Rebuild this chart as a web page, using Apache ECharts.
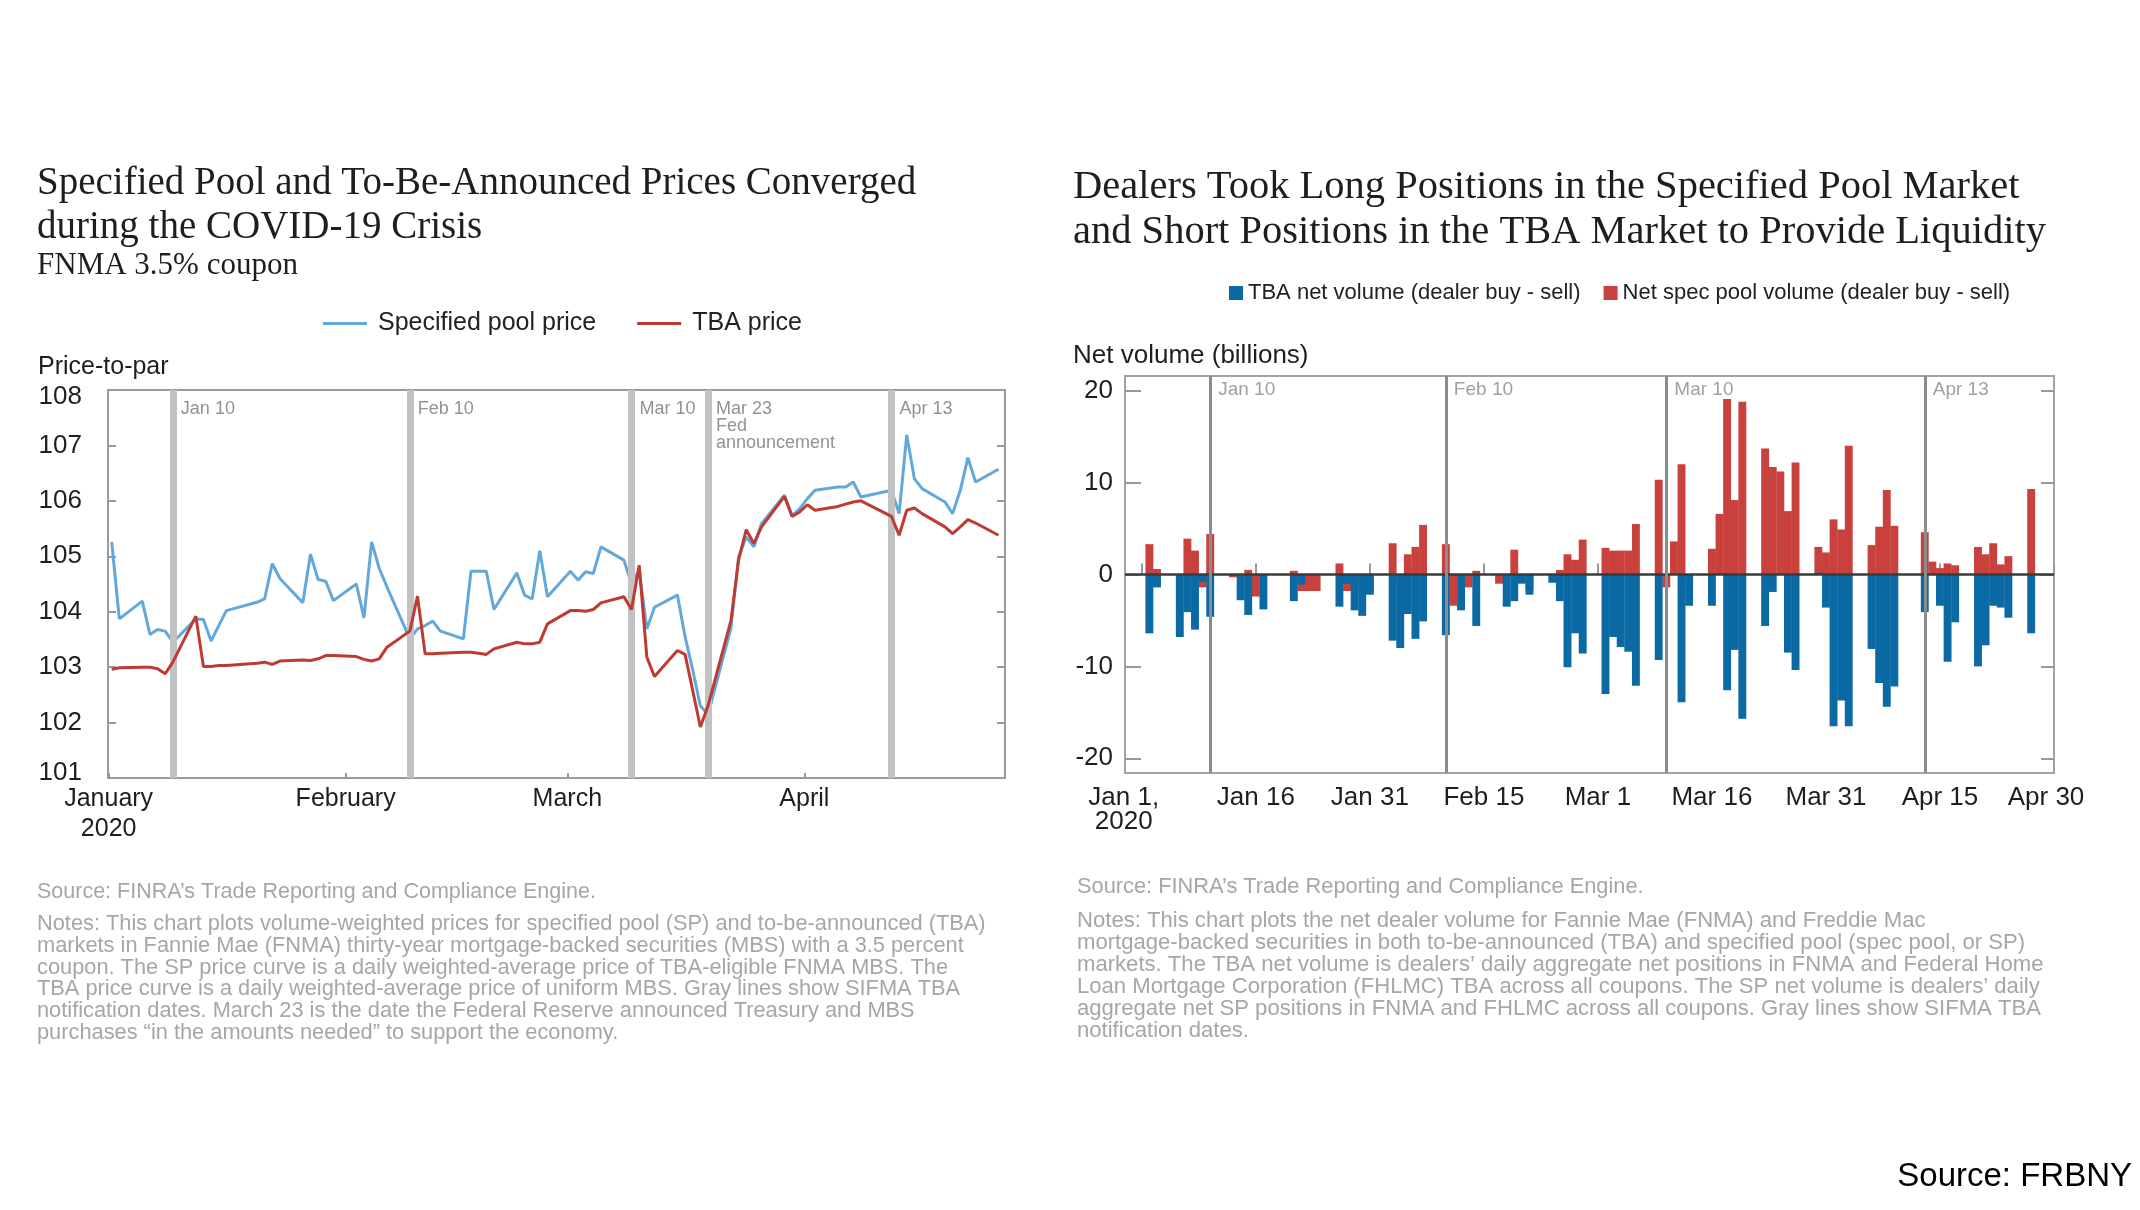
<!DOCTYPE html>
<html><head><meta charset="utf-8">
<script src="https://cdn.jsdelivr.net/npm/echarts@6/dist/echarts.min.js"></script>
<style>html,body{margin:0;padding:0;background:#fff}#c{width:2140px;height:1210px}</style>
</head><body><div id="c"></div>
<script>
// ---------- data ----------
const BUSINESS_DATES = [
'2020-01-02','2020-01-03','2020-01-06','2020-01-07','2020-01-08','2020-01-09','2020-01-10',
'2020-01-13','2020-01-14','2020-01-15','2020-01-16','2020-01-17',
'2020-01-21','2020-01-22','2020-01-23','2020-01-24',
'2020-01-27','2020-01-28','2020-01-29','2020-01-30','2020-01-31',
'2020-02-03','2020-02-04','2020-02-05','2020-02-06','2020-02-07',
'2020-02-10','2020-02-11','2020-02-12','2020-02-13','2020-02-14',
'2020-02-17','2020-02-18','2020-02-19','2020-02-20','2020-02-21',
'2020-02-24','2020-02-25','2020-02-26','2020-02-27','2020-02-28',
'2020-03-02','2020-03-03','2020-03-04','2020-03-05','2020-03-06',
'2020-03-09','2020-03-10','2020-03-11','2020-03-12','2020-03-13',
'2020-03-16','2020-03-17','2020-03-18','2020-03-19','2020-03-20',
'2020-03-23','2020-03-24','2020-03-25','2020-03-26','2020-03-27',
'2020-03-30','2020-03-31','2020-04-01','2020-04-02','2020-04-03',
'2020-04-06','2020-04-07','2020-04-08','2020-04-09',
'2020-04-13','2020-04-14','2020-04-15','2020-04-16','2020-04-17',
'2020-04-20','2020-04-21','2020-04-22','2020-04-23','2020-04-24',
'2020-04-27'];

const SP_PRICE = [
105.26,103.87,104.19,103.59,103.68,103.65,103.45,
103.87,103.86,103.47,103.75,104.02,
104.17,104.23,104.87,104.60,
104.16,105.04,104.58,104.55,104.20,
104.50,103.89,105.26,104.78,104.45,
103.51,103.69,103.75,103.83,103.65,
103.51,104.73,104.73,104.73,104.04,
104.70,104.30,104.23,105.10,104.27,
104.73,104.57,104.72,104.69,105.17,
104.93,104.50,104.75,103.69,104.08,
104.30,103.55,102.95,102.30,102.15,
103.70,104.99,105.35,105.17,105.59,
106.10,105.73,105.86,106.04,106.19,
106.25,106.25,106.34,106.07,
106.19,105.77,107.19,106.40,106.22,
105.98,105.77,106.19,106.78,106.34,
106.57];

const TBA_PRICE = [
102.96,102.99,103.00,103.00,102.97,102.88,103.09,
103.92,103.01,103.01,103.03,103.03,
103.07,103.09,103.05,103.11,
103.13,103.12,103.15,103.21,103.21,
103.19,103.14,103.11,103.15,103.36,
103.65,104.28,103.24,103.24,103.25,
103.27,103.27,103.25,103.23,103.33,
103.45,103.42,103.42,103.45,103.78,
104.02,104.02,104.01,104.04,104.16,
104.27,104.04,104.84,103.18,102.83,
103.30,103.23,102.58,101.92,102.30,
103.84,104.93,105.48,105.23,105.53,
106.08,105.72,105.80,105.93,105.83,
105.90,105.94,105.98,106.00,
105.72,105.38,105.83,105.87,105.77,
105.53,105.41,105.53,105.66,105.60,
105.38];

const SPEC_VOL = [
3.3,0.6,-0.2,3.9,2.6,-1.4,4.4,
-0.3,0,0.5,-2.4,0,
0.4,-1.8,-1.8,-1.8,
1.2,-1.8,-1.5,-0.7,-1.8,
3.4,-0.7,2.2,3.0,5.4,
3.3,-3.4,0,-1.4,0.4,
-1.0,0,2.7,0,-1.7,
0,0.5,2.2,1.6,3.8,
2.9,2.6,2.6,2.6,5.5,
10.3,-1.4,3.6,12.0,-0.6,
2.8,6.6,19.1,8.1,18.8,
13.7,11.7,11.2,6.9,12.2,
3.0,2.4,6.0,4.9,14.0,
3.2,5.2,9.2,5.3,
4.6,1.4,0.7,1.2,1.0,
3.0,2.2,3.4,1.1,2.0,
9.3];

const TBA_VOL = [
-6.4,-1.4,-6.8,-4.1,-6.0,-0.8,-4.6,
0,-2.8,-4.4,0,-3.8,
-2.9,-1.1,0,0,
-3.5,-1.0,-3.9,-4.5,-2.2,
-7.2,-8.0,-4.3,-7.0,-5.1,
-6.6,0,-3.9,0,-5.6,
0,-3.5,-2.9,-1.0,-2.2,
-0.9,-2.9,-10.1,-6.4,-8.6,
-13.0,-6.8,-7.9,-8.4,-12.1,
-9.3,0,0,-13.9,-3.4,
-3.4,0,-12.6,-8.2,-15.7,
-5.6,-1.9,0,-8.5,-10.4,
0.2,-3.6,-16.5,-13.7,-16.5,
-8.1,-11.8,-14.4,-12.2,
-4.1,0,-3.4,-9.5,-5.2,
-10.0,-7.7,-3.4,-3.6,-4.7,
-6.4];

const PRICE_VLINE_DATES  = ['2020-01-10','2020-02-10','2020-03-10','2020-03-20','2020-04-13'];
const PRICE_VLINE_LABELS = ['Jan 10','Feb 10','Mar 10','Mar 23\nFed\nannouncement','Apr 13'];
const PRICE_TICK_DATES   = ['2020-01-01','2020-02-01','2020-03-01','2020-04-01'];
const PRICE_TICK_LABELS  = ['January\n2020','February','March','April'];

const VOL_VLINE_DATES  = ['2020-01-10','2020-02-10','2020-03-10','2020-04-13'];
const VOL_VLINE_LABELS = ['Jan 10','Feb 10','Mar 10','Apr 13'];
const VOL_TICK_DATES   = ['2020-01-01','2020-01-16','2020-01-31','2020-02-15','2020-03-01','2020-03-16','2020-03-31','2020-04-15','2020-04-30'];
const VOL_TICK_LABELS  = ['Jan 1,\n2020','Jan 16','Jan 31','Feb 15','Mar 1','Mar 16','Mar 31','Apr 15','Apr 30'];
const VOL_Y_TICKS      = [-20,-10,0,10,20];

// ---------- helpers ----------
const DAY = 86400000;
const T = s => Date.parse(s.length === 10 ? s + 'T00:00:00Z' : s + 'Z');
const PRICE_SHIFT = -0.6 * DAY;   // plotting offset seen in the source figure
const PRICE_Y_MIN = 101, PRICE_Y_MAX = 108;
const VOL_Y_MIN = -21.6, VOL_Y_MAX = 21.6;

const priceTickTs = PRICE_TICK_DATES.map(T);
const volTickTs = VOL_TICK_DATES.map(T);
const priceLabelMap = {}; priceTickTs.forEach((t,i)=>priceLabelMap[t]=PRICE_TICK_LABELS[i]);
const volLabelMap = {}; volTickTs.forEach((t,i)=>volLabelMap[t]=VOL_TICK_LABELS[i]);
const VOL_FIRST = volTickTs[0], VOL_LAST = volTickTs[volTickTs.length-1];

const spData = BUSINESS_DATES.map((d,i)=>[T(d)+PRICE_SHIFT, SP_PRICE[i]]);
const tbaData = BUSINESS_DATES.map((d,i)=>[T(d)+PRICE_SHIFT, TBA_PRICE[i]]);
const specVolData = BUSINESS_DATES.map((d,i)=>[T(d), SPEC_VOL[i]]);
const tbaVolData = BUSINESS_DATES.map((d,i)=>[T(d), TBA_VOL[i]]);

const SANS = "'Liberation Sans', Arial, sans-serif";
const SERIF = "'Liberation Serif', 'Times New Roman', serif";

const leftNotes = [
'Notes: This chart plots volume-weighted prices for specified pool (SP) and to-be-announced (TBA)',
'markets in Fannie Mae (FNMA) thirty-year mortgage-backed securities (MBS) with a 3.5 percent',
'coupon. The SP price curve is a daily weighted-average price of TBA-eligible FNMA MBS. The',
'TBA price curve is a daily weighted-average price of uniform MBS. Gray lines show SIFMA TBA',
'notification dates. March 23 is the date the Federal Reserve announced Treasury and MBS',
'purchases \u201cin the amounts needed\u201d to support the economy.'].join('\n');
const rightNotes = [
'Notes: This chart plots the net dealer volume for Fannie Mae (FNMA) and Freddie Mac',
'mortgage-backed securities in both to-be-announced (TBA) and specified pool (spec pool, or SP)',
'markets. The TBA net volume is dealers\u2019 daily aggregate net positions in FNMA and Federal Home',
'Loan Mortgage Corporation (FHLMC) TBA across all coupons. The SP net volume is dealers\u2019 daily',
'aggregate net SP positions in FNMA and FHLMC across all coupons. Gray lines show SIFMA TBA',
'notification dates.'].join('\n');

function txt(x, y, text, size, color, family, extra) {
  return Object.assign({type:'text', x:x, y:y, silent:true,
    style:Object.assign({text:text, fontSize:size, fontFamily:family, fill:color, verticalAlign:'middle'}, extra||{})});
}

const AXL = {fontSize:26, color:'#1e1e1e', fontFamily:SANS};
const chart = echarts.init(document.getElementById('c'), null, {renderer:'canvas'});
const option = {
  animation:false,
  backgroundColor:'#fff',
  graphic:[
    txt(37,184,'Specified Pool and To-Be-Announced Prices Converged',39,'#1e1e1e',SERIF),
    txt(37,228,'during the COVID-19 Crisis',39,'#1e1e1e',SERIF),
    txt(37,266,'FNMA 3.5% coupon',31,'#1e1e1e',SERIF),
    txt(1073,187,'Dealers Took Long Positions in the Specified Pool Market',40.5,'#1e1e1e',SERIF),
    txt(1073,232,'and Short Positions in the TBA Market to Provide Liquidity',40.5,'#1e1e1e',SERIF),
    txt(38,367,'Price-to-par',25,'#1e1e1e',SANS),
    txt(1073,356,'Net volume (billions)',26,'#1e1e1e',SANS),
    txt(37,892,'Source: FINRA\u2019s Trade Reporting and Compliance Engine.',21.5,'#a6a6a6',SANS),
    txt(37,913,leftNotes,21.8,'#a6a6a6',SANS,{verticalAlign:'top',lineHeight:21.8}),
    txt(1077,887,'Source: FINRA\u2019s Trade Reporting and Compliance Engine.',21.8,'#a6a6a6',SANS),
    txt(1077,910,rightNotes,22.1,'#a6a6a6',SANS,{verticalAlign:'top',lineHeight:22}),
    txt(2132,1177,'Source: FRBNY',33,'#000',SANS,{align:'right'})
  ],
  legend:[
    {data:['Specified pool price','TBA price'], left:318, top:306, icon:'rect', itemWidth:44, itemHeight:3,
     itemGap:41, textStyle:{fontSize:25, color:'#222', fontFamily:SANS, padding:[0,0,0,6]}, selectedMode:false},
    {data:['TBA net volume (dealer buy - sell)','Net spec pool volume (dealer buy - sell)'], left:1224, top:277,
     icon:'rect', itemWidth:14, itemHeight:14, itemGap:23, textStyle:{fontSize:22, color:'#222', fontFamily:SANS}, selectedMode:false}
  ],
  grid:[
    {left:108, top:390, width:897, height:388, show:true, borderColor:'#9b9b9b', borderWidth:2, containLabel:false},
    {left:1125, top:376, width:929, height:397, show:true, borderColor:'#a3a3a3', borderWidth:2, containLabel:false}
  ],
  xAxis:[
    {type:'value', gridIndex:0, min:T('2019-12-31T22:00:00'), max:T('2020-04-27T06:00:00'),
     axisLine:{show:false}, splitLine:{show:false},
     axisTick:{show:true, inside:true, length:5, customValues:priceTickTs, lineStyle:{color:'#999', width:2}},
     axisLabel:{customValues:priceTickTs, formatter:v=>priceLabelMap[v]||'', fontSize:25, lineHeight:30,
       color:'#1e1e1e', fontFamily:SANS, margin:6, hideOverlap:false, showMinLabel:true, showMaxLabel:true}},
    {type:'value', gridIndex:1, min:T('2019-12-29T19:00:00'), max:T('2020-04-30T00:00:00'),
     axisLine:{show:false}, splitLine:{show:false},
     axisTick:{show:true, inside:true, length:11, customValues:volTickTs, lineStyle:{color:'#999', width:2}},
     axisLabel:{customValues:volTickTs,
       formatter:(v)=>{
         const s = volLabelMap[v]||'';
         if (Math.abs(v - VOL_FIRST) < 1000) return s.split('\n').map(p=>'{f|'+p+'}').join('\n');
         if (Math.abs(v - VOL_LAST) < 1000) return '{l|'+s+'}';
         return s;
       },
       rich:{f:Object.assign({padding:[0,36,0,0], lineHeight:24}, AXL), l:Object.assign({padding:[0,16,0,0]}, AXL)},
       fontSize:26, lineHeight:24, color:'#1e1e1e', fontFamily:SANS, margin:13, hideOverlap:false, showMinLabel:true, showMaxLabel:true}}
  ],
  yAxis:[
    {type:'value', gridIndex:0, min:PRICE_Y_MIN, max:PRICE_Y_MAX, interval:1, axisLine:{show:false}, splitLine:{show:false},
     axisTick:{show:true, inside:true, length:8, lineStyle:{color:'#999', width:2}},
     axisLabel:{fontSize:26, color:'#1e1e1e', fontFamily:SANS, margin:26,
       formatter:v=> v===PRICE_Y_MAX ? '{t|'+v+'}' : (v===PRICE_Y_MIN ? '{b|'+v+'}' : String(v)),
       rich:{t:Object.assign({padding:[14,0,0,0]}, AXL), b:Object.assign({padding:[0,0,10,0]}, AXL)}}},
    {type:'value', gridIndex:0, position:'right', min:PRICE_Y_MIN, max:PRICE_Y_MAX, interval:1, axisLine:{show:false}, splitLine:{show:false},
     axisTick:{show:true, inside:true, length:8, lineStyle:{color:'#999', width:2}}, axisLabel:{show:false}},
    {type:'value', gridIndex:1, min:VOL_Y_MIN, max:VOL_Y_MAX, axisLine:{show:false}, splitLine:{show:false},
     axisTick:{show:true, inside:true, length:16, customValues:VOL_Y_TICKS, lineStyle:{color:'#999', width:2}},
     axisLabel:{customValues:VOL_Y_TICKS, fontSize:26, color:'#1e1e1e', fontFamily:SANS, margin:12}},
    {type:'value', gridIndex:1, position:'right', min:VOL_Y_MIN, max:VOL_Y_MAX, axisLine:{show:false}, splitLine:{show:false},
     axisTick:{show:true, inside:true, length:13, customValues:VOL_Y_TICKS, lineStyle:{color:'#999', width:2}},
     axisLabel:{show:false, customValues:VOL_Y_TICKS}}
  ],
  series:[
    {name:'Specified pool price', type:'line', xAxisIndex:0, yAxisIndex:0, data:spData, showSymbol:false, z:4,
     itemStyle:{color:'#62a8dc'}, lineStyle:{color:'#62a8dc', width:3}},
    {name:'TBA price', type:'line', xAxisIndex:0, yAxisIndex:0, data:tbaData, showSymbol:false, z:5,
     itemStyle:{color:'#bf3a30'}, lineStyle:{color:'#bf3a30', width:3}},
    {name:'priceNotif', type:'scatter', xAxisIndex:0, yAxisIndex:0, symbolSize:0, z:1, clip:false, silent:true,
     data:PRICE_VLINE_DATES.map((d,i)=>({value:[T(d)+PRICE_SHIFT, PRICE_Y_MAX], label:{formatter:PRICE_VLINE_LABELS[i]}})),
     label:{show:true, position:'right', distance:8, verticalAlign:'top', offset:[0,11], fontSize:18, lineHeight:17,
       color:'#777', fontFamily:SANS, align:'left'},
     markLine:{silent:true, symbol:['none','none'], label:{show:false},
       lineStyle:{color:'#c2c2c2', width:7, type:'solid'},
       data:PRICE_VLINE_DATES.map(d=>({xAxis:T(d)+PRICE_SHIFT}))}},
    {name:'Net spec pool volume (dealer buy - sell)', type:'bar', xAxisIndex:1, yAxisIndex:2, stack:'vol', data:specVolData,
     barWidth:7.9, itemStyle:{color:'#c8413c'}, z:2},
    {name:'TBA net volume (dealer buy - sell)', type:'bar', xAxisIndex:1, yAxisIndex:2, stack:'vol', data:tbaVolData,
     barWidth:7.9, itemStyle:{color:'#0b69a3'}, z:2,
     markLine:{silent:true, symbol:['none','none'], label:{show:false},
       lineStyle:{color:'#3a3a3a', width:2.5, type:'solid'}, data:[{yAxis:0}]}},
    {name:'volNotif', type:'scatter', xAxisIndex:1, yAxisIndex:2, symbolSize:0, z:3, clip:false, silent:true,
     data:VOL_VLINE_DATES.map((d,i)=>({value:[T(d), VOL_Y_MAX], label:{formatter:VOL_VLINE_LABELS[i]}})),
     label:{show:true, position:'right', distance:8, verticalAlign:'top', offset:[0,4], fontSize:19,
       color:'#888', fontFamily:SANS, align:'left'},
     markLine:{silent:true, symbol:['none','none'], label:{show:false},
       lineStyle:{color:'#8c8c8c', width:3, type:'solid'},
       data:VOL_VLINE_DATES.map(d=>({xAxis:T(d)}))}}
  ]
};
chart.setOption(option);
</script></body></html>
